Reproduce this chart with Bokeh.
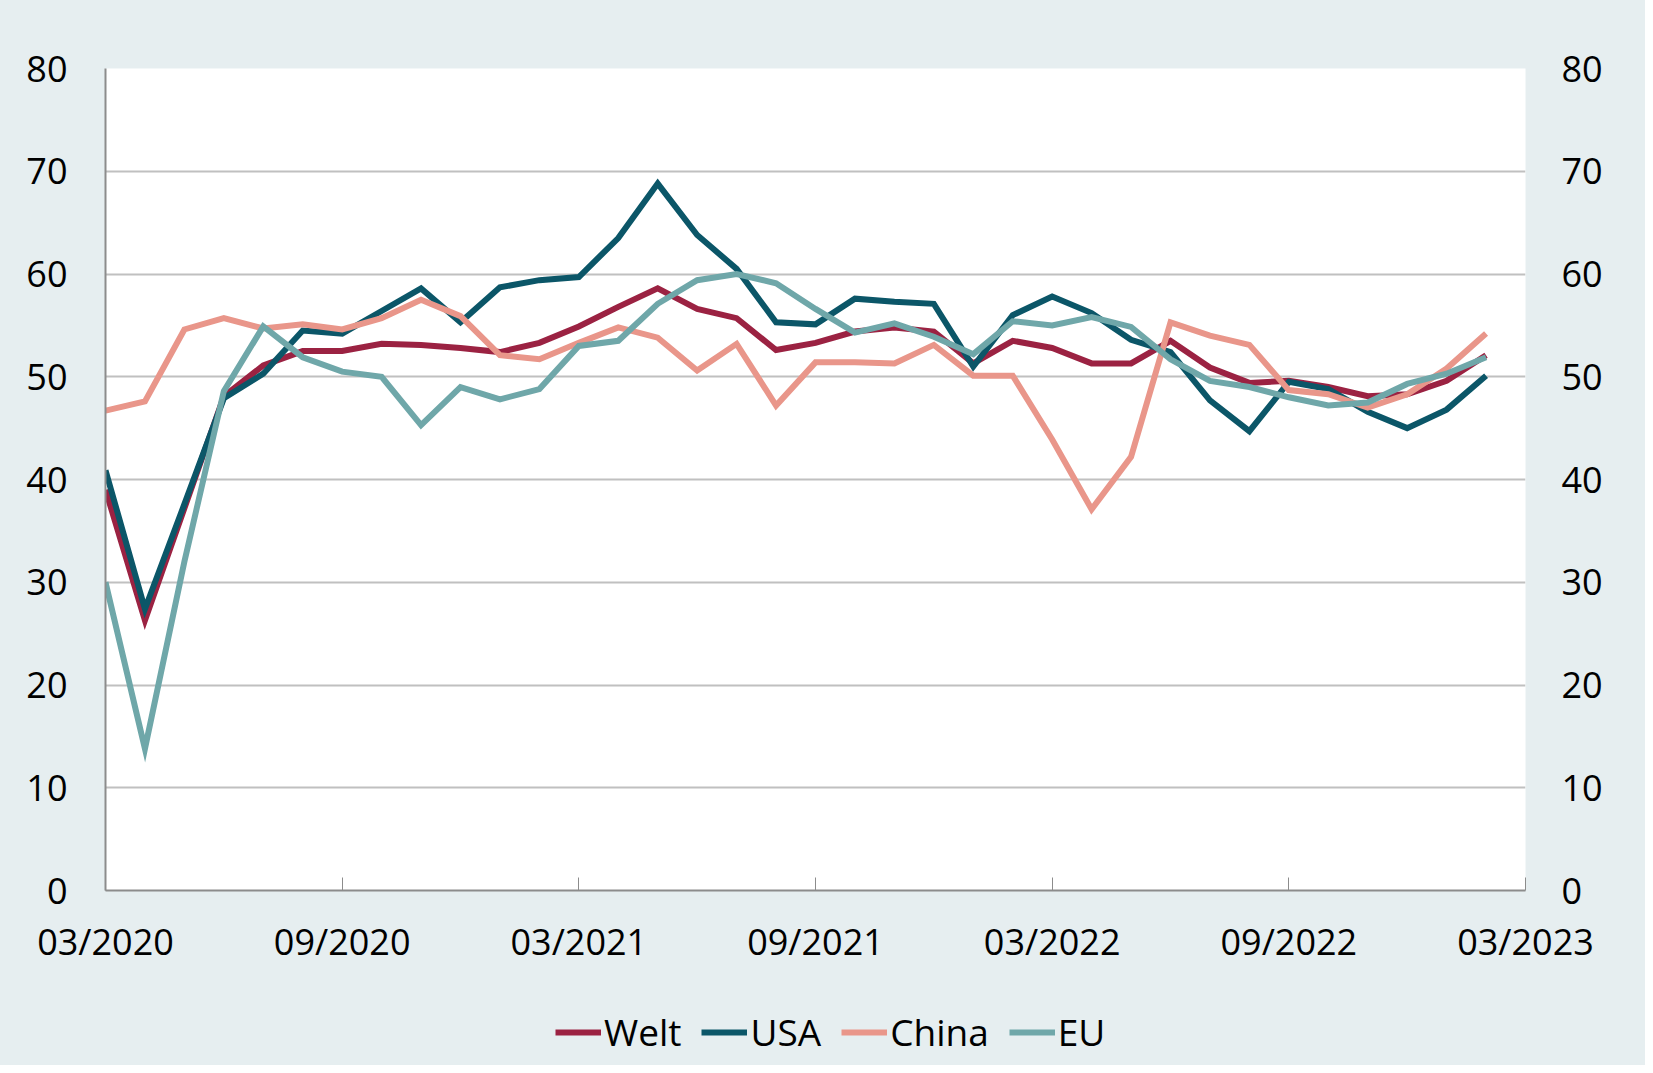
from bokeh.plotting import figure
from bokeh.models import Legend, LegendItem, LinearAxis, FixedTicker, Range1d
from bokeh.layouts import column
from bokeh.embed import file_html
from bokeh.resources import INLINE

# Data (monthly, 03/2020 .. 02/2023)
months = list(range(36))
welt = [39.0, 26.3, 37.2, 48.1, 51.1, 52.5, 52.5, 53.2, 53.1, 52.8, 52.4, 53.3, 54.9,
        56.8, 58.6, 56.6, 55.7, 52.6, 53.3, 54.4, 54.8, 54.4, 51.3, 53.5, 52.8,
        51.3, 51.3, 53.5, 50.9, 49.4, 49.6, 49.0, 48.1, 48.3, 49.6, 52.1]
usa = [40.9, 27.4, 37.6, 47.9, 50.3, 54.5, 54.2, 56.4, 58.6, 55.3, 58.7, 59.4, 59.7,
       63.5, 68.8, 63.8, 60.5, 55.3, 55.1, 57.6, 57.3, 57.1, 51.0, 56.0, 57.8,
       56.2, 53.6, 52.4, 47.7, 44.7, 49.5, 48.8, 46.6, 45.0, 46.8, 50.1]
china = [46.7, 47.6, 54.6, 55.7, 54.7, 55.1, 54.6, 55.7, 57.5, 55.9, 52.1, 51.7, 53.3,
         54.8, 53.8, 50.6, 53.2, 47.2, 51.4, 51.4, 51.3, 53.1, 50.1, 50.1, 43.9,
         37.1, 42.2, 55.3, 54.0, 53.1, 48.7, 48.3, 47.0, 48.3, 50.8, 54.2]
eu = [30.0, 13.8, 32.0, 48.6, 54.9, 51.9, 50.5, 50.0, 45.3, 49.0, 47.8, 48.8, 53.0,
      53.5, 57.1, 59.4, 60.0, 59.1, 56.6, 54.3, 55.2, 53.9, 52.2, 55.4, 55.0,
      55.8, 54.85, 51.7, 49.6, 49.0, 48.0, 47.2, 47.5, 49.3, 50.3, 51.9]
series_names = ["Welt", "USA", "China", "EU"]
series_colors = ["#9B2242", "#0B5668", "#E9968A", "#6FA7A9"]
x_ticks = [0, 6, 12, 18, 24, 30, 36]
x_tick_labels = ["03/2020", "09/2020", "03/2021", "09/2021", "03/2022", "09/2022", "03/2023"]
y_ticks = [0, 10, 20, 30, 40, 50, 60, 70, 80]

BG = "#E6EEF0"
FONT = "Open Sans"
FS = "36px"
W = 1645

p = figure(width=W, height=970, output_backend="svg", toolbar_location=None,
           x_range=Range1d(0, 36), y_range=Range1d(0, 80),
           min_border_left=105, min_border_right=120, min_border_top=68, min_border_bottom=80,
           background_fill_color="white", border_fill_color=BG, outline_line_color=None)

for name, vals, col in zip(series_names, [welt, usa, china, eu], series_colors):
    p.line(months, vals, line_color=col, line_width=6, line_join="miter")

# axes
p.xaxis.ticker = FixedTicker(ticks=x_ticks)
p.xaxis.major_label_overrides = {t: l for t, l in zip(x_ticks, x_tick_labels)}
p.xaxis.axis_line_color = "#8C8C8C"
p.xaxis.axis_line_width = 2
p.xaxis.major_tick_line_color = "#8C8C8C"
p.xaxis.major_tick_line_width = 1
p.xaxis.major_tick_in = 13
p.xaxis.major_tick_out = 0
p.xaxis.minor_tick_line_color = None
p.xaxis.major_label_standoff = 26
p.xaxis.major_label_text_font = FONT
p.xaxis.major_label_text_font_size = FS
p.xaxis.major_label_text_color = "black"

p.yaxis.ticker = FixedTicker(ticks=y_ticks)
p.yaxis.axis_line_color = "#8C8C8C"
p.yaxis.axis_line_width = 2
p.yaxis.major_tick_line_color = None
p.yaxis.minor_tick_line_color = None
p.yaxis.major_label_standoff = 32
p.yaxis.major_label_text_font = FONT
p.yaxis.major_label_text_font_size = FS
p.yaxis.major_label_text_color = "black"

ry = LinearAxis(ticker=FixedTicker(ticks=y_ticks))
ry.axis_line_color = None
ry.major_tick_line_color = None
ry.minor_tick_line_color = None
ry.major_label_standoff = 30
ry.major_label_text_font = FONT
ry.major_label_text_font_size = FS
ry.major_label_text_color = "black"
p.add_layout(ry, "right")

p.xgrid.grid_line_color = None
p.ygrid.ticker = FixedTicker(ticks=y_ticks)
p.ygrid.grid_line_color = "#C0C0C0"
p.ygrid.grid_line_width = 2

# legend strip (its lines lie outside its visible range; only the legend shows)
q = figure(width=W, height=95, output_backend="svg", toolbar_location=None,
           x_range=Range1d(0, 36), y_range=Range1d(1000, 1001),
           x_axis_type=None, y_axis_type=None,
           min_border_left=105, min_border_right=120, min_border_top=0, min_border_bottom=0,
           background_fill_color=None, border_fill_color=BG, outline_line_color=None)
q.xgrid.visible = False
q.ygrid.visible = False
items = []
for name, vals, col in zip(series_names, [welt, usa, china, eu], series_colors):
    r = q.line(months, vals, line_color=col, line_width=6)
    items.append(LegendItem(label=name, renderers=[r]))

legend = Legend(items=items, orientation="horizontal", location=(450, 8),
                background_fill_alpha=0, border_line_color=None,
                label_text_font=FONT, label_text_font_size="37px", label_text_color="black",
                glyph_width=46, glyph_height=30, label_standoff=3, spacing=20,
                padding=0, margin=0)
q.add_layout(legend, "center")

lay = column(p, q, spacing=0, styles={"background-color": BG})
open("out.html", "w").write(file_html(lay, INLINE))
